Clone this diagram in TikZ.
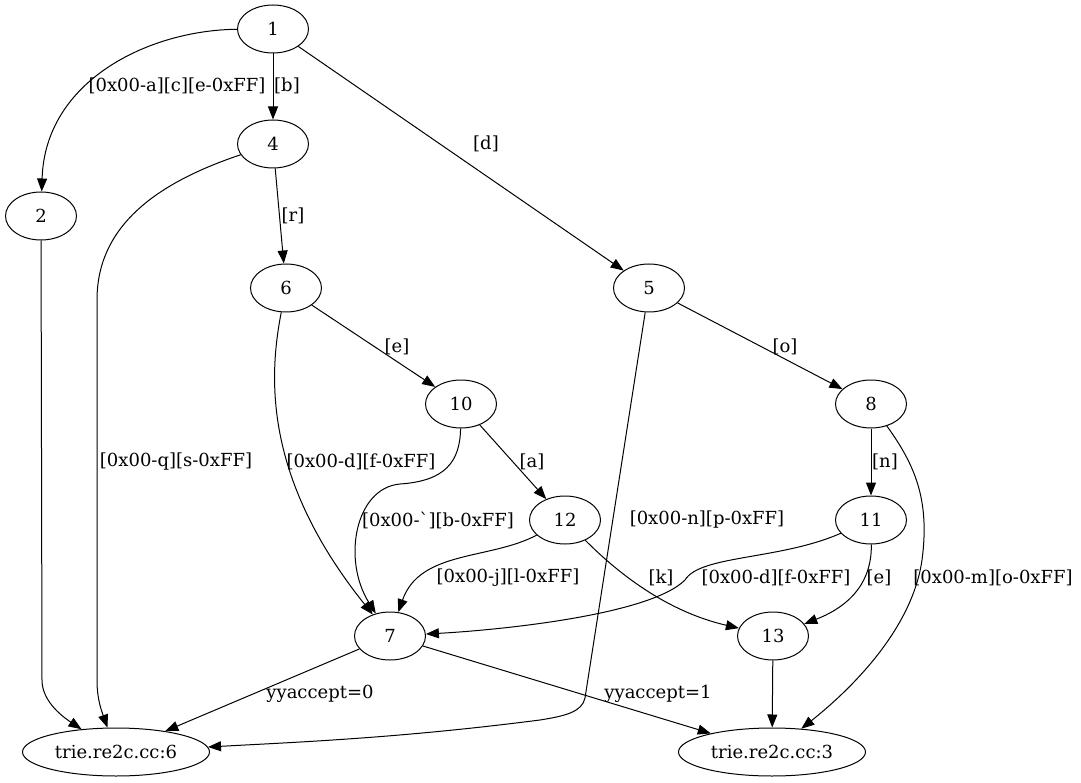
\documentclass[tikz,border=0pt]{standalone}
\usepackage{fontspec}
\setmainfont{DejaVu Serif}
\usetikzlibrary{shapes.geometric,arrows.meta}

\tikzset{
  state/.style={draw, ellipse, line width=1pt, minimum width=71pt, minimum height=48pt, inner sep=0pt},
  final/.style={state, minimum width=187pt},
  lbl/.style={inner sep=0pt, font=\fontsize{18}{22}\selectfont},
  edge/.style={line width=1pt, -{Triangle[length=13pt,width=10pt]}}
}

\begin{document}
\begin{tikzpicture}[x=1pt, y=-1pt, every node/.append style={font=\fontsize{18}{22}\selectfont}]
\useasboundingbox (0,0) rectangle (1081,783);
% states
\node[state] (n1) at (273,29) {1};
\node[state] (n4) at (273,144) {4};
\node[state] (n2) at (41,216) {2};
\node[state] (n6) at (286,288) {6};
\node[state] (n5) at (649,288) {5};
\node[state] (n10) at (461,404) {10};
\node[state] (n8) at (871,404) {8};
\node[state] (n12) at (565,520) {12};
\node[state] (n11) at (871,520) {11};
\node[state] (n7) at (390,636) {7};
\node[state] (n13) at (773,636) {13};
\node[final] (t6) at (116,752) {trie.re2c.cc:6};
\node[final] (t3) at (772,752) {trie.re2c.cc:3};
% transitions
\draw[edge] (n1) .. controls (150,30) and (45,80) .. (n2);
\draw[edge] (n1) -- (n4);
\draw[edge] (n1) -- (n5);
\draw[edge] (n4) -- (n6);
\draw[edge] (n4) .. controls (150,185) and (97,230) .. (97,300) -- (97,680) .. controls (97,700) and (102,712) .. (t6);
\draw[edge] (n2) -- (42,680) .. controls (42,700) and (60,715) .. (t6);
\draw[edge] (n6) -- (n10);
\draw[edge] (n6) .. controls (268,380) and (265,480) .. (n7);
\draw[edge] (n10) .. controls (460,462) and (445,481) .. (400,484) .. controls (355,488) and (342,560) .. (n7);
\draw[edge] (n10) -- (n12);
\draw[edge] (n5) -- (n8);
\draw[edge] (n5) -- (585,698) .. controls (582,712) and (565,716) .. (540,720) .. controls (400,738) and (300,742) .. (t6);
\draw[edge] (n8) -- (n11);
\draw[edge] (n8) .. controls (915,465) and (930,500) .. (922,560) .. controls (912,630) and (850,690) .. (t3);
\draw[edge] (n12) .. controls (490,560) and (420,550) .. (n7);
\draw[edge] (n12) .. controls (610,565) and (660,610) .. (n13);
\draw[edge] (n11) .. controls (780,560) and (700,555) .. (685,580) .. controls (650,615) and (500,630) .. (n7);
\draw[edge] (n11) .. controls (872,590) and (840,610) .. (n13);
\draw[edge] (n7) -- (t6);
\draw[edge] (n7) -- (t3);
\draw[edge] (n13) -- (t3);
% labels
\node[lbl] (l12) at (177,86) {[0x00-a][c][e-0xFF]};
\node[lbl] (l14) at (287,86) {[b]};
\node[lbl] (l15) at (486,144) {[d]};
\node[lbl] (l46) at (293,216) {[r]};
\node[lbl] (l4t) at (176,462) {[0x00-q][s-0xFF]};
\node[lbl] (l610) at (397,347) {[e]};
\node[lbl] (l58) at (785,347) {[o]};
\node[lbl] (l67) at (361,462) {[0x00-d][f-0xFF]};
\node[lbl] (l1012) at (532,462) {[a]};
\node[lbl] (l811) at (885,462) {[n]};
\node[lbl] (l107) at (438,520) {[0x00-\textasciigrave][b-0xFF]};
\node[lbl] (l5t) at (707,520) {[0x00-n][p-0xFF]};
\node[lbl] (l127) at (508,578) {[0x00-j][l-0xFF]};
\node[lbl] (l1213) at (661,578) {[k]};
\node[lbl] (l117) at (776,578) {[0x00-d][f-0xFF]};
\node[lbl] (l1113) at (879,578) {[e]};
\node[lbl] (l8t) at (993,578) {[0x00-m][o-0xFF]};
\node[lbl] (l7a) at (320,694) {yyaccept=0};
\node[lbl] (l7b) at (658,694) {yyaccept=1};
\end{tikzpicture}
\end{document}
